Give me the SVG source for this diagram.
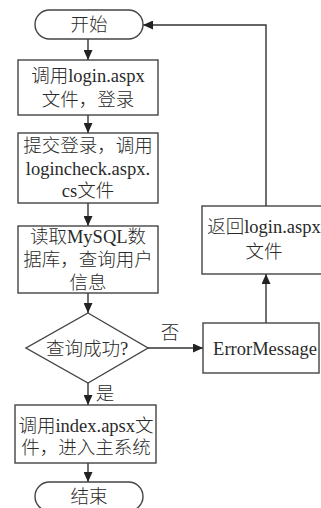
<svg xmlns="http://www.w3.org/2000/svg" width="321" height="508" viewBox="0 0 321 508">
<style>
.s{fill:#fff;stroke:#444;stroke-width:1.4}
.t{font-family:"Liberation Serif","Noto Sans CJK SC",serif;font-size:18.5px;font-weight:300;fill:#2a2a2a;text-anchor:middle}
.c{fill:none;stroke:#333;stroke-width:1.4}
</style>
<defs>
<marker id="a" viewBox="0 0 10 10" refX="10" refY="5" markerWidth="10" markerHeight="9" markerUnits="userSpaceOnUse" orient="auto" preserveAspectRatio="none">
<path d="M0,0 L10,5 L0,10 z" fill="#222"/>
</marker>
</defs>
<g id="connectors">
<line class="c" x1="88" y1="39" x2="88" y2="60" marker-end="url(#a)"/>
<line class="c" x1="88" y1="115" x2="88" y2="133" marker-end="url(#a)"/>
<line class="c" x1="88" y1="203" x2="88" y2="226" marker-end="url(#a)"/>
<line class="c" x1="88" y1="293" x2="88" y2="313" marker-end="url(#a)"/>
<line class="c" x1="88" y1="383" x2="88" y2="405" marker-end="url(#a)"/>
<line class="c" x1="88" y1="463" x2="88" y2="482" marker-end="url(#a)"/>
<line class="c" x1="148" y1="348" x2="203" y2="348" marker-end="url(#a)"/>
<line class="c" x1="266" y1="323" x2="266" y2="274" marker-end="url(#a)"/>
<polyline class="c" points="266,206 266,25 143,25" marker-end="url(#a)"/>
<text class="t" x="170" y="339">否</text>
<text class="t" x="105" y="400">是</text>
</g>
<g id="start">
<rect class="s" x="35" y="10" width="108" height="29" rx="14.5"/>
<text class="t" x="89" y="31">开始</text>
</g>
<g id="login">
<rect class="s" x="18" y="60" width="140" height="55"/>
<text class="t" x="88" y="82">调用login.aspx</text>
<text class="t" x="88" y="106">文件，登录</text>
</g>
<g id="check">
<rect class="s" x="18" y="133" width="140" height="70"/>
<text class="t" x="88" y="152">提交登录，调用</text>
<text class="t" x="88" y="175">logincheck.aspx.</text>
<text class="t" x="88" y="197">cs文件</text>
</g>
<g id="mysql">
<rect class="s" x="18" y="226" width="140" height="67"/>
<text class="t" x="88" y="243">读取MySQL数</text>
<text class="t" x="88" y="266">据库，查询用户</text>
<text class="t" x="88" y="289">信息</text>
</g>
<g id="decision">
<polygon class="s" points="88,313 148,348 88,383 26,348"/>
<text class="t" x="87" y="355">查询成功?</text>
</g>
<g id="index">
<rect class="s" x="15" y="405" width="141" height="58"/>
<text class="t" x="86" y="432">调用index.apsx文</text>
<text class="t" x="86" y="454">件，进入主系统</text>
</g>
<g id="end">
<rect class="s" x="35" y="482" width="108" height="29" rx="14.5"/>
<text class="t" x="89" y="503">结束</text>
</g>
<g id="error">
<rect class="s" x="203" y="323" width="116" height="50"/>
<text class="t" x="265" y="355">ErrorMessage</text>
</g>
<g id="return">
<rect class="s" x="202" y="206" width="130" height="68"/>
<text class="t" x="264" y="233">返回login.aspx</text>
<text class="t" x="264" y="258">文件</text>
</g>
</svg>
